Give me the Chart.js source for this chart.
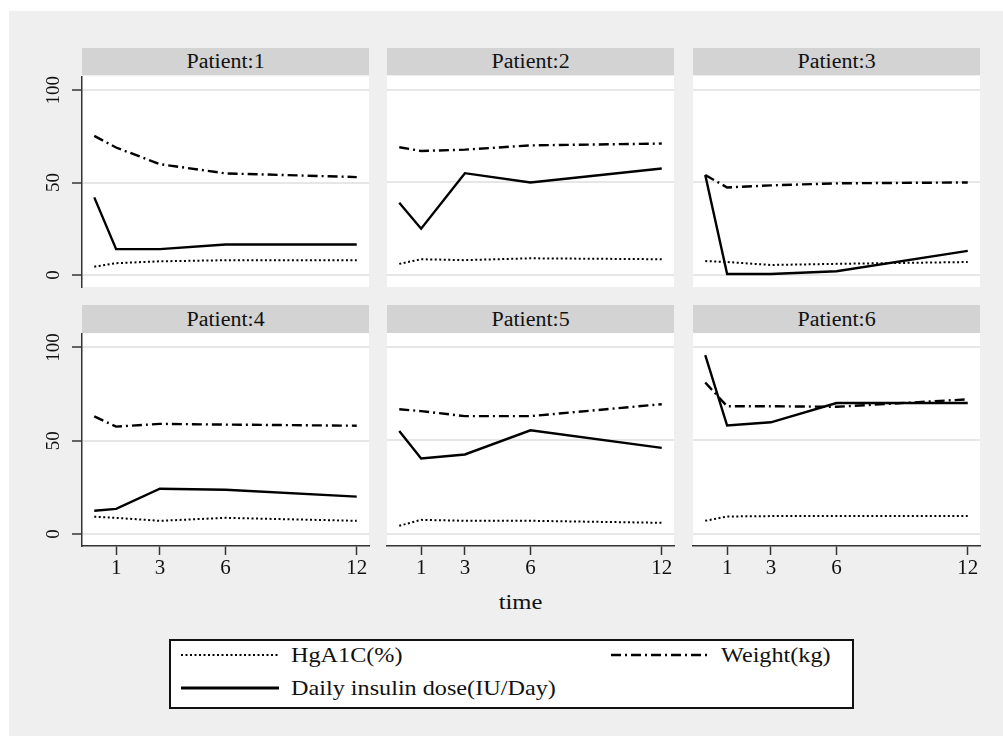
<!DOCTYPE html>
<html>
<head>
<meta charset="utf-8">
<script src="https://cdn.jsdelivr.net/npm/chart.js@4"></script>
<style>
  html, body { margin: 0; padding: 0; background: #fff; }
  body { width: 1003px; height: 736px; position: relative; overflow: hidden;
         font-family: "Liberation Serif", "DejaVu Serif", "Noto Serif", serif; }
  #bg { position: absolute; left: 9px; top: 11px; right: 0; bottom: 0; background: #efefef; }
  .hdr { position: absolute; background: #d3d3d3; color: #111; font-size: 20px;
         text-align: center; }
  .hdr span { display: inline-block; transform: scaleX(1.1); }
  canvas { position: absolute; }
  #xtitle { position: absolute; left: 471px; width: 100px; top: 589px; text-align: center;
            font-size: 22px; color: #111; }
  #xtitle span { display: inline-block; transform: scaleX(1.12); }
  #legend { position: absolute; left: 169px; top: 639px; width: 681px; height: 66px;
            border: 2px solid #111; background: #fff; }
  .li { position: absolute; font-size: 22px; color: #111; white-space: nowrap; }
  .li svg { position: absolute; left: 0; top: 0; }
  .li span { position: absolute; left: 111px; top: 0; line-height: 24px;
             transform: scaleX(1.1); transform-origin: left center; }
</style>
</head>
<body>
<div id="bg"></div>
<div id="xtitle"><span>time</span></div>
<div id="legend"></div>

<script>
// data
const times = [0, 1, 3, 6, 12];
const xTicks = [1, 3, 6, 12];
const yTicks = [0, 50, 100];
const patients = ['Patient:1', 'Patient:2', 'Patient:3', 'Patient:4', 'Patient:5', 'Patient:6'];

const hga1c = [
  [4.5, 6.4, 7.4, 8, 8],
  [6, 8.5, 8, 9, 8.5],
  [7.5, 7, 5.4, 6, 7],
  [9.2, 8.6, 7, 8.6, 7],
  [4.3, 7.5, 7, 7, 5.9],
  [7, 9.3, 9.5, 9.5, 9.5]
];
const weight = [
  [75.3, 69, 60, 55, 53],
  [69, 67, 67.7, 70, 71],
  [54, 47.3, 48.4, 49.5, 50],
  [63, 57.5, 59, 58.6, 58],
  [66.7, 65.7, 63, 63, 69.4],
  [81, 68.3, 68.3, 68, 72]
];
const insulin = [
  [42, 14, 14, 16.5, 16.5],
  [39, 25, 55, 50, 57.5],
  [54, 0.5, 0.5, 2, 13],
  [12.4, 13.4, 24.2, 23.7, 20],
  [55, 40.3, 42.5, 55.4, 46],
  [95.7, 58, 59.7, 70, 70]
];

const seriesNames = ['HgA1C(%)', 'Weight(kg)', 'Daily insulin dose(IU/Day)'];
const seriesDash = [[2, 2.5], [10, 4, 2, 4], []];
const seriesWidth = [2, 2.4, 2.4];

// layout of the 2x3 grid
const colLeft = [82, 387, 693];
const rowTop = [76, 333];
const rowH = [211, 213];
const plotW = 287;
const padTop = 15, yW = 50, xH = 45, padRight = 8;
const font = '"Liberation Serif", "DejaVu Serif", "Noto Serif", serif';

const whitePlot = {
  id: 'whitePlot',
  beforeDraw(chart) {
    const a = chart.chartArea, ctx = chart.ctx;
    ctx.save();
    ctx.fillStyle = '#fff';
    ctx.fillRect(a.left, a.top, a.right - a.left, a.bottom - a.top);
    ctx.restore();
  }
};

function toPoints(vals) {
  return vals.map((v, i) => ({ x: times[i], y: v }));
}

patients.forEach((name, p) => {
  const r = Math.floor(p / 3), c = p % 3;
  const showY = c === 0, showX = r === 1;

  const hdr = document.createElement('div');
  hdr.className = 'hdr';
  hdr.style.left = colLeft[c] + 'px';
  hdr.style.top = (r === 0 ? 48 : 305) + 'px';
  hdr.style.width = plotW + 'px';
  hdr.style.height = (r === 0 ? 27 : 28) + 'px';
  hdr.style.lineHeight = (r === 0 ? 27 : 28) + 'px';
  hdr.innerHTML = '<span>' + name + '</span>';
  document.body.appendChild(hdr);

  const cv = document.createElement('canvas');
  const w = yW + plotW + padRight, h = padTop + rowH[r] + xH;
  cv.width = w; cv.height = h;
  cv.style.left = (colLeft[c] - yW) + 'px';
  cv.style.top = (rowTop[r] - padTop) + 'px';
  cv.style.width = w + 'px'; cv.style.height = h + 'px';
  document.body.appendChild(cv);

  const sets = [hga1c[p], weight[p], insulin[p]].map((vals, s) => ({
    label: seriesNames[s],
    data: toPoints(vals),
    borderColor: '#000',
    borderWidth: seriesWidth[s],
    borderDash: seriesDash[s],
    pointRadius: 0,
    fill: false,
    tension: 0
  }));

  new Chart(cv.getContext('2d'), {
    type: 'line',
    data: { datasets: sets },
    plugins: [whitePlot],
    options: {
      responsive: false,
      animation: false,
      devicePixelRatio: 1,
      layout: { padding: { top: padTop, right: padRight, left: 0, bottom: 0 } },
      plugins: { legend: { display: false }, tooltip: { enabled: false } },
      scales: {
        x: {
          type: 'linear',
          min: -0.56, max: 12.56,
          afterBuildTicks: s => { s.ticks = xTicks.map(v => ({ value: v })); },
          afterFit: s => { s.height = xH; },
          grid: { display: showX, drawOnChartArea: false, drawTicks: true,
                  tickLength: 9, tickColor: '#333', tickWidth: 1.5 },
          border: { display: showX, color: '#333', width: 1.5 },
          ticks: { display: showX, padding: 1, color: '#111',
                   font: { family: font, size: 21 } }
        },
        y: {
          type: 'linear',
          min: -6.5, max: 107.5,
          afterBuildTicks: s => { s.ticks = yTicks.map(v => ({ value: v })); },
          afterFit: s => { s.width = yW; },
          grid: { display: true, color: '#e6e6e6', lineWidth: 2,
                  drawTicks: showY, tickLength: 10, tickColor: '#333', tickWidth: 1.5 },
          border: { display: showY, color: '#333', width: 1.5 },
          ticks: { display: showY, minRotation: 90, maxRotation: 90, crossAlign: 'center',
                   padding: 4, color: '#111', font: { family: font, size: 19 } }
        }
      }
    }
  });
});

// shared legend box
const legend = document.getElementById('legend');
const legendPos = [[9, 2], [439, 2], [9, 35]];
seriesNames.forEach((name, s) => {
  const item = document.createElement('div');
  item.className = 'li';
  item.style.left = legendPos[s][0] + 'px';
  item.style.top = legendPos[s][1] + 'px';
  const dash = seriesDash[s].length ? seriesDash[s].join(' ') : 'none';
  item.innerHTML =
    '<svg width="100" height="24"><line x1="1" y1="12" x2="99" y2="12" stroke="#000" ' +
    'stroke-width="' + (s === 2 ? 3 : seriesWidth[s]) + '" stroke-dasharray="' + dash + '"/></svg>' +
    '<span>' + name + '</span>';
  legend.appendChild(item);
});
</script>
</body>
</html>
